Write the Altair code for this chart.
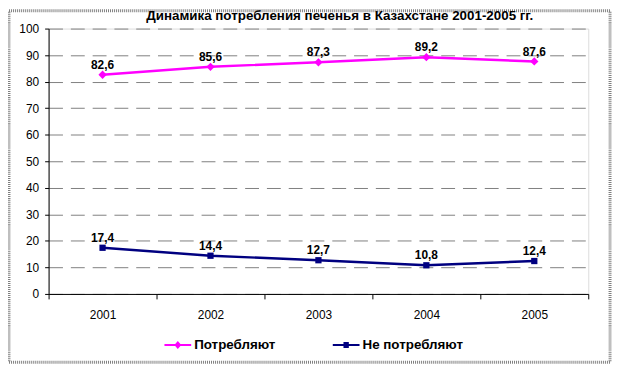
import altair as alt
import pandas as pd

years = ["2001", "2002", "2003", "2004", "2005"]
series_names = ["Потребляют", "Не потребляют"]
consume = [82.6, 85.6, 87.3, 89.2, 87.6]
not_consume = [17.4, 14.4, 12.7, 10.8, 12.4]
y_ticks = [0, 10, 20, 30, 40, 50, 60, 70, 80, 90, 100]
title_text = "Динамика потребления печенья в Казахстане 2001-2005 гг."

colors = ["#FF00FF", "#000080"]
legend_paths = [
    "M-1,-0.075H1V0.075H-1Z M0,-0.3L0.26,0L0,0.3L-0.26,0Z",
    "M-1,-0.075H1V0.075H-1Z M-0.2,-0.22H0.2V0.22H-0.2Z",
]

rows = []
for s, vals in zip(series_names, [consume, not_consume]):
    for yr, v in zip(years, vals):
        rows.append({"year": yr, "series": s, "value": v,
                     "label": f"{v:.1f}".replace(".", ",")})
df = pd.DataFrame(rows)

FONT = "Liberation Sans"

x_enc = alt.X("year:N", sort=years, title=None,
              scale=alt.Scale(paddingInner=0, paddingOuter=0),
              axis=alt.Axis(tickBand="extent", tickSize=5, labelAngle=0,
                            labelPadding=11, grid=False, domainColor="black",
                            tickColor="black", labelColor="black",
                            labelFont=FONT, labelFontSize=12))
y_enc = alt.Y("value:Q", title=None,
              scale=alt.Scale(domain=[0, 100], nice=False),
              axis=alt.Axis(values=y_ticks, tickSize=4, labelPadding=6,
                            grid=True, gridColor="#808080", gridDash=[14, 8],
                            gridWidth=1, domainColor="black", tickColor="black",
                            labelColor="black", labelFont=FONT, labelFontSize=12))
color_scale = alt.Scale(domain=series_names, range=colors)

base = alt.Chart(df).encode(x=x_enc, y=y_enc)

lines = base.mark_line(strokeWidth=2.5).encode(
    color=alt.Color("series:N", scale=color_scale, legend=None),
    detail="series:N",
)

diamonds = base.transform_filter(alt.datum.series == series_names[0]).mark_point(
    shape="diamond", filled=True, opacity=1, size=70
).encode(color=alt.Color("series:N", scale=color_scale, legend=None))

squares = base.transform_filter(alt.datum.series == series_names[1]).mark_point(
    shape="square", filled=True, opacity=1, size=40
).encode(color=alt.Color("series:N", scale=color_scale, legend=None))

labels = base.mark_text(fontWeight="bold", fontSize=12, font=FONT, dy=-10,
                        color="black").encode(text="label:N")

legend_cfg = dict(title=None, orient="none", legendX=117, legendY=306,
                  direction="horizontal", symbolSize=729, symbolStrokeWidth=0,
                  labelFont=FONT, labelFontSize=13.5, labelFontWeight="bold",
                  labelColor="black", labelOffset=3, columnPadding=57, padding=0)

legend_layer = alt.Chart(df).transform_filter("false").mark_point(
    filled=True, opacity=1
).encode(
    color=alt.Color("series:N", scale=color_scale, legend=alt.Legend(**legend_cfg)),
    shape=alt.Shape("series:N",
                    scale=alt.Scale(domain=series_names, range=legend_paths),
                    legend=alt.Legend(**legend_cfg)),
)

border = alt.Chart(alt.Data(values=[{}])).mark_rect(
    fill=None, stroke="#808080", strokeWidth=3, strokeDash=[1, 1]
).encode(x=alt.value(-40), x2=alt.value(567), y=alt.value(-18), y2=alt.value(337))

title_mark = alt.Chart(alt.Data(values=[{"t": title_text}])).mark_text(
    fontSize=13.5, fontWeight="bold", font=FONT, color="black", align="center",
    baseline="middle"
).encode(text="t:N", x=alt.value(294), y=alt.value(-13))

chart = alt.layer(border, title_mark, lines, diamonds, squares, labels,
                  legend_layer).resolve_legend(
    color="independent", shape="independent"
).properties(
    width=545, height=268,
    autosize=alt.AutoSizeParams(type="none"),
    padding={"left": 41, "top": 19, "right": 26, "bottom": 71},
).configure_view(stroke=None).configure(background="white")

chart.save("out.html", embed_options={"renderer": "svg", "actions": False})
